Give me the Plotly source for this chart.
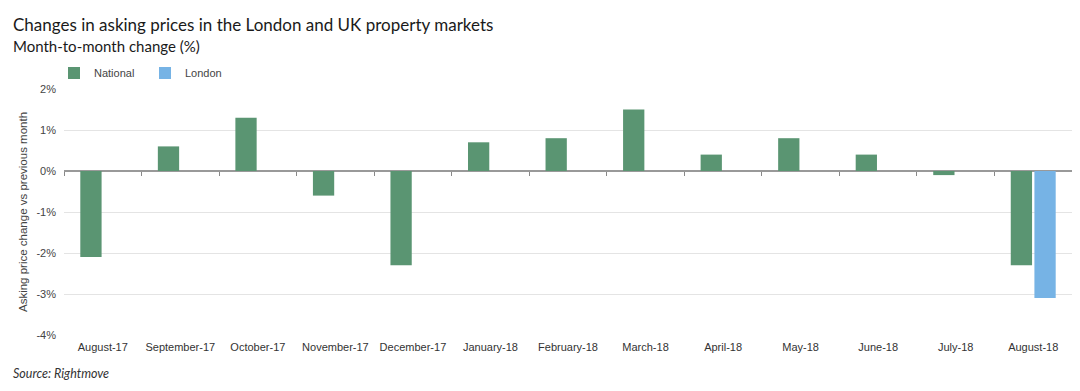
import plotly.graph_objects as go

categories = ["August-17", "September-17", "October-17", "November-17", "December-17",
              "January-18", "February-18", "March-18", "April-18", "May-18",
              "June-18", "July-18", "August-18"]
national = [-2.1, 0.6, 1.3, -0.6, -2.3, 0.7, 0.8, 1.5, 0.4, 0.8, 0.4, -0.1, -2.3]
london = [None, None, None, None, None, None, None, None, None, None, None, None, -3.1]
y_ticks = [2, 1, 0, -1, -2, -3, -4]
y_tick_labels = [f"{v}%" for v in y_ticks]

GREEN = "#5a9572"
BLUE = "#76b3e5"

OFF = 8  # default page body margin (top/left)
W, H = 1080 - OFF, 391 - OFF
L, R, T, B = 64 - OFF, 8, 89 - OFF, 56
ph = H - T - B
pw = W - L - R


def py(px):
    # px = target pixel in the window
    return (H - B - (px - OFF)) / ph


def pxx(px):
    return ((px - OFF) - L) / pw


fig = go.Figure()
fig.add_trace(go.Bar(name="National", x=categories, y=national, marker_color=GREEN,
                     marker_line_width=0))
fig.add_trace(go.Bar(name="London", x=categories, y=london, marker_color=BLUE,
                     marker_line_width=0))
# helper trace to render boundary ticks along the zero line
fig.add_trace(go.Scatter(x=[0], y=[0], xaxis="x2", yaxis="y", mode="markers",
                         marker=dict(opacity=0), showlegend=False, hoverinfo="skip"))

fig.update_layout(
    width=W, height=H,
    margin=dict(l=L, r=R, t=T, b=B),
    paper_bgcolor="white", plot_bgcolor="white",
    barmode="group", bargap=0.39, bargroupgap=0.1,
    font=dict(family="Liberation Sans, Arial, sans-serif", size=11, color="#444"),
    showlegend=True,
    legend=dict(orientation="h", x=pxx(54), y=py(73), xanchor="left", yanchor="middle",
                font=dict(family="Liberation Sans, Arial, sans-serif", size=11, color="#444"),
                itemwidth=30, entrywidth=46, entrywidthmode="pixels", tracegroupgap=0,
                bgcolor="rgba(0,0,0,0)"),
    xaxis=dict(type="category", categoryorder="array", categoryarray=categories,
               showgrid=False, showline=False, ticks="",
               tickfont=dict(family="Liberation Sans, Arial, sans-serif", size=11, color="#333"),
               ticklabelstandoff=4),
    xaxis2=dict(overlaying="x", anchor="free", position=2/3, range=[-0.5, len(categories) - 0.5],
                tickvals=[i - 0.5 for i in range(len(categories) + 1)], ticks="outside",
                ticklen=4, tickcolor="#888", tickwidth=1, showticklabels=False,
                showgrid=False, showline=False, zeroline=False),
    yaxis=dict(range=[-4, 2], tickvals=y_ticks, ticktext=y_tick_labels,
               showgrid=True, gridcolor="#e4e4e4", gridwidth=1,
               zeroline=True, zerolinecolor="#999", zerolinewidth=1.5,
               tickfont=dict(family="Liberation Sans, Arial, sans-serif", size=11, color="#444"),
               ticklabelstandoff=7,
               title=dict(text="Asking price change vs previous month",
                          font=dict(family="Liberation Sans, Arial, sans-serif", size=11.5,
                                    color="#444"), standoff=6)),
    annotations=[
        dict(text="Changes in asking prices in the London and UK property markets",
             xref="paper", yref="paper", x=pxx(11), y=py(24), xanchor="left", yanchor="middle",
             showarrow=False, font=dict(family="Lato, sans-serif", size=17, color="#1a1a1a")),
        dict(text="Month-to-month change (%)",
             xref="paper", yref="paper", x=pxx(11), y=py(46), xanchor="left", yanchor="middle",
             showarrow=False, font=dict(family="Lato, sans-serif", size=15, color="#1a1a1a")),
        dict(text="<i>Source: Rightmove</i>",
             xref="paper", yref="paper", x=pxx(11), y=py(373), xanchor="left", yanchor="middle",
             showarrow=False, font=dict(family="Lato, sans-serif", size=12.5, color="#333")),
    ],
)

fig.write_html("out.html")
